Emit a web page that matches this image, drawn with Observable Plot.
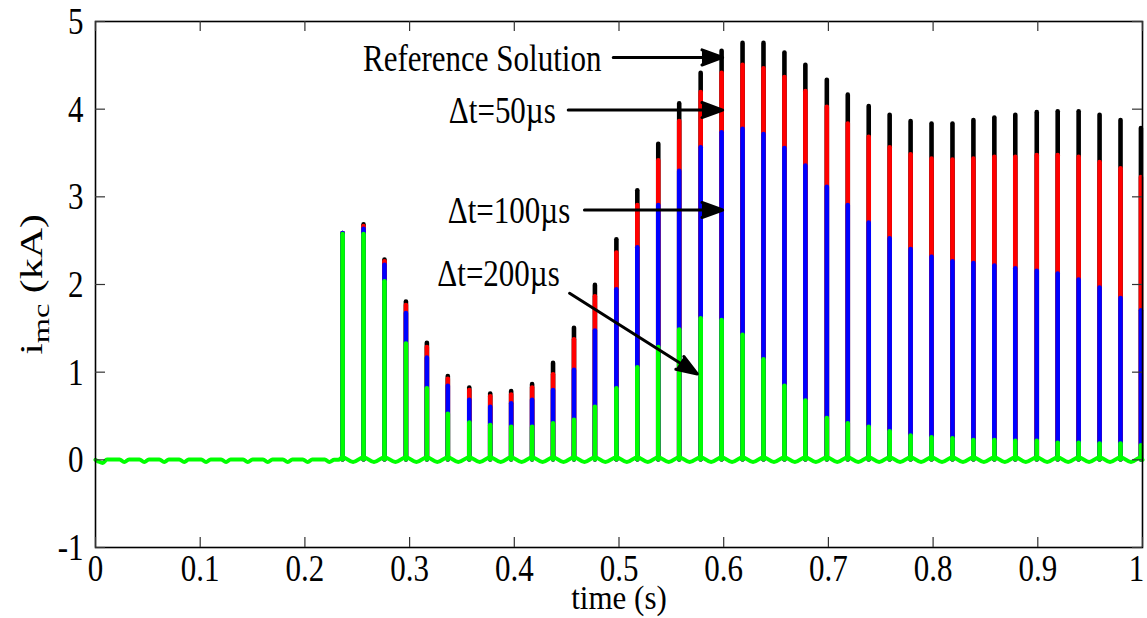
<!DOCTYPE html>
<html>
<head>
<meta charset="utf-8">
<script src="https://cdn.jsdelivr.net/npm/d3@7"></script>
<script src="https://cdn.jsdelivr.net/npm/@observablehq/plot@0.6"></script>
<style>
  html, body { margin: 0; padding: 0; background: #fff; }
  #chart { width: 1147px; height: 618px; }
</style>
</head>
<body>
<div id="chart"></div>
<script>
// ---- data ----
const spikeTime = [0.236,0.256,0.276,0.2965,0.3165,0.3365,0.357,0.377,0.397,0.417,0.437,0.457,0.477,0.4975,0.5175,0.5375,0.5575,0.578,0.598,0.618,0.638,0.658,0.678,0.6985,0.7185,0.7385,0.7585,0.7785,0.7985,0.8185,0.8385,0.8585,0.8785,0.899,0.919,0.939,0.959,0.979,0.9985];
const peakRef = [2.58,2.68,2.28,1.80,1.33,0.95,0.82,0.75,0.78,0.86,1.10,1.50,1.99,2.51,3.07,3.60,4.06,4.41,4.66,4.75,4.75,4.64,4.50,4.33,4.16,4.03,3.93,3.86,3.83,3.83,3.87,3.90,3.93,3.96,3.97,3.97,3.93,3.87,3.78];
const peak50  = [2.58,2.66,2.26,1.76,1.28,0.92,0.79,0.72,0.74,0.82,0.97,1.37,1.86,2.36,2.90,3.41,3.86,4.19,4.41,4.50,4.46,4.36,4.20,4.02,3.83,3.68,3.56,3.48,3.43,3.42,3.43,3.45,3.45,3.47,3.47,3.45,3.39,3.32,3.22];
const peak100 = [2.58,2.63,2.22,1.67,1.16,0.84,0.68,0.60,0.64,0.68,0.79,1.02,1.47,1.94,2.42,2.90,3.29,3.56,3.73,3.77,3.71,3.55,3.35,3.11,2.90,2.70,2.52,2.40,2.31,2.26,2.24,2.21,2.18,2.15,2.12,2.05,1.96,1.84,1.70];
const peak200 = [2.57,2.57,2.03,1.32,0.81,0.52,0.42,0.39,0.37,0.37,0.41,0.45,0.60,0.81,1.05,1.28,1.48,1.61,1.59,1.42,1.14,0.84,0.67,0.47,0.41,0.37,0.32,0.27,0.25,0.24,0.22,0.22,0.21,0.21,0.19,0.19,0.18,0.18,0.16];

// quiet baseline (green trace) before the spikes
const preTime  = [0,0.003,0.0069,0.011,0.023,0.0275,0.032,0.042,0.0466,0.051,0.061,0.0657,0.070,0.080,0.0848,0.089,0.101,0.1056,0.110,0.120,0.1247,0.129,0.141,0.1454,0.150,0.160,0.1645,0.169,0.179,0.1836,0.188,0.198,0.2027,0.207,0.219,0.2234,0.228,0.232];
const preValue = [0.0,-0.02,-0.035,0.005,0.005,-0.025,0.005,0.005,-0.025,0.005,0.005,-0.025,0.005,0.005,-0.025,0.005,0.005,-0.025,0.005,0.005,-0.025,0.005,0.005,-0.025,0.005,0.005,-0.025,0.005,0.005,-0.025,0.005,0.005,-0.025,0.005,0.005,-0.025,0.0,0.0];
// ripple between spikes
const troughTime = [0.246,0.266,0.2865,0.3065,0.3265,0.3465,0.367,0.387,0.407,0.427,0.447,0.467,0.487,0.5075,0.5275,0.5475,0.5675,0.588,0.608,0.628,0.648,0.668,0.688,0.7085,0.7285,0.7485,0.7685,0.7885,0.8085,0.8285,0.8485,0.8685,0.8885,0.909,0.929,0.949,0.969,0.989];
const troughValue = -0.025;
const spikeBaseValue = 0.03;

const xTicks = [0,0.1,0.2,0.3,0.4,0.5,0.6,0.7,0.8,0.9,1];
const xTickLabels = ["0","0.1","0.2","0.3","0.4","0.5","0.6","0.7","0.8","0.9","1"];
const yTicks = [-1,0,1,2,3,4,5];
const yTickLabels = ["-1","0","1","2","3","4","5"];
const xLabel = "time (s)";
const yLabel = "imc (kA)";

const notes = [
  {text: "Reference Solution", x: 0.2555, y: 4.58, x1: 0.4945, y1: 4.59, x2: 0.599, y2: 4.59},
  {text: "\u0394t=50\u00b5s",  x: 0.3375, y: 3.98, x1: 0.4515, y1: 3.99, x2: 0.599, y2: 3.99},
  {text: "\u0394t=100\u00b5s", x: 0.3365, y: 2.84, x1: 0.467,  y1: 2.85, x2: 0.599, y2: 2.85},
  {text: "\u0394t=200\u00b5s", x: 0.3265, y: 2.13, x1: 0.4528, y1: 1.90, x2: 0.5748, y2: 0.98}
];

// ---- tables for the marks ----
const spikes = spikeTime.map((t, i) => ({t, ref: peakRef[i], d50: peak50[i], d100: peak100[i], d200: peak200[i]}));
const baseline = preTime.map((t, i) => ({t, v: preValue[i]}));
spikeTime.forEach((t, i) => {
  baseline.push({t, v: spikeBaseValue});
  if (i < troughTime.length) baseline.push({t: troughTime[i], v: troughValue});
});
baseline.push({t: 1, v: 0});

const W = 1147, H = 618;
const mL = 95, mR = 5, mT = 21, mB = 71;
const plotW = W - mL - mR, plotH = H - mT - mB;
const tickLen = 10;

const spikeStyle = {x: "t", y1: 0, strokeWidth: 4.6, strokeLinecap: "round"};

const svg = Plot.plot({
  width: W, height: H,
  marginLeft: mL, marginRight: mR, marginTop: mT, marginBottom: mB,
  style: {fontFamily: "'Liberation Serif', 'Times New Roman', serif", fontSize: "31px", background: "white", color: "black"},
  x: {domain: [0, 1]},
  y: {domain: [-1, 5]},
  marks: [
    Plot.ruleX(spikes, {...spikeStyle, y2: "ref", stroke: "#000000"}),
    Plot.ruleX(spikes, {...spikeStyle, y2: "d50", stroke: "#ff0000"}),
    Plot.ruleX(spikes, {...spikeStyle, y2: "d100", stroke: "#0000ff"}),
    Plot.ruleX(spikes, {...spikeStyle, y2: "d200", stroke: "#00ff00"}),
    Plot.line(baseline, {x: "t", y: "v", stroke: "#00ff00", strokeWidth: 4, curve: "monotone-x"}),
    Plot.arrow(notes, {x1: "x1", y1: "y1", x2: "x2", y2: "y2", stroke: "black", strokeWidth: 3, headLength: 11, headAngle: 40}),
    Plot.text(notes, {x: "x", y: "y", text: "text", textAnchor: "start", lineAnchor: "middle", fill: "black"}),
    Plot.frame({stroke: "black", strokeWidth: 1.6}),
    Plot.tickX(xTicks, {x: d => d, insetTop: plotH - tickLen, stroke: "#333", strokeWidth: 1.2}),
    Plot.tickX(xTicks, {x: d => d, insetBottom: plotH - tickLen, stroke: "#333", strokeWidth: 1.2}),
    Plot.tickY(yTicks, {y: d => d, insetRight: plotW - tickLen, stroke: "#333", strokeWidth: 1.2}),
    Plot.tickY(yTicks, {y: d => d, insetLeft: plotW - tickLen, stroke: "#333", strokeWidth: 1.2}),
    Plot.axisX({ticks: xTicks, tickFormat: d => xTickLabels[xTicks.indexOf(d)], tickSize: 0, tickPadding: 9, label: null}),
    Plot.axisY({ticks: yTicks, tickFormat: d => yTickLabels[yTicks.indexOf(d)], tickSize: 0, tickPadding: 12, label: null}),
    Plot.text([xLabel], {text: d => d, frameAnchor: "bottom", textAnchor: "middle", dy: 50, lineAnchor: "middle"}),
    Plot.text([yLabel], {text: d => d, frameAnchor: "left", textAnchor: "middle", dx: -63, rotate: -90, lineAnchor: "middle"})
  ]
});

const root = d3.select(svg);
// subscript in the y label
root.selectAll("text").filter(function () { return this.textContent === yLabel; }).each(function () {
  const t = d3.select(this);
  t.text(null).classed("ylab", true);
  t.append("tspan").text("i");
  t.append("tspan").attr("dy", "7").attr("font-size", "24px").text("mc");
  t.append("tspan").attr("dy", "-7").text(" (kA)");
});
root.selectAll("text").filter(function () { return this.textContent === xLabel; }).classed("xlab", true);
// filled arrow heads
root.selectAll('g[aria-label="arrow"] path, g[aria-label="arrow"]').attr("fill", "black").attr("stroke-linejoin", "miter");
// last x tick label sits against the right edge
root.selectAll("text").filter(function () { return this.textContent === "1" && this.parentNode.getAttribute("aria-label") === "x-axis tick label"; }).attr("dx", -6);

document.getElementById("chart").appendChild(svg);

// the reference lettering is taller than it is wide: stretch text vertically about its centre
svg.querySelectorAll("text").forEach(t => {
  const S = t.classList.contains("ylab") ? 1.35 : t.classList.contains("xlab") ? 1.12 : 1.25;
  const r = t.getBoundingClientRect();
  const p = svg.createSVGPoint();
  p.x = r.left + r.width / 2; p.y = r.top + r.height / 2;
  const q = p.matrixTransform(t.parentNode.getScreenCTM().inverse());
  const g = document.createElementNS("http://www.w3.org/2000/svg", "g");
  g.setAttribute("transform", `translate(0,${q.y}) scale(1,${S}) translate(0,${-q.y})`);
  t.parentNode.insertBefore(g, t);
  g.appendChild(t);
});
</script>
</body>
</html>
